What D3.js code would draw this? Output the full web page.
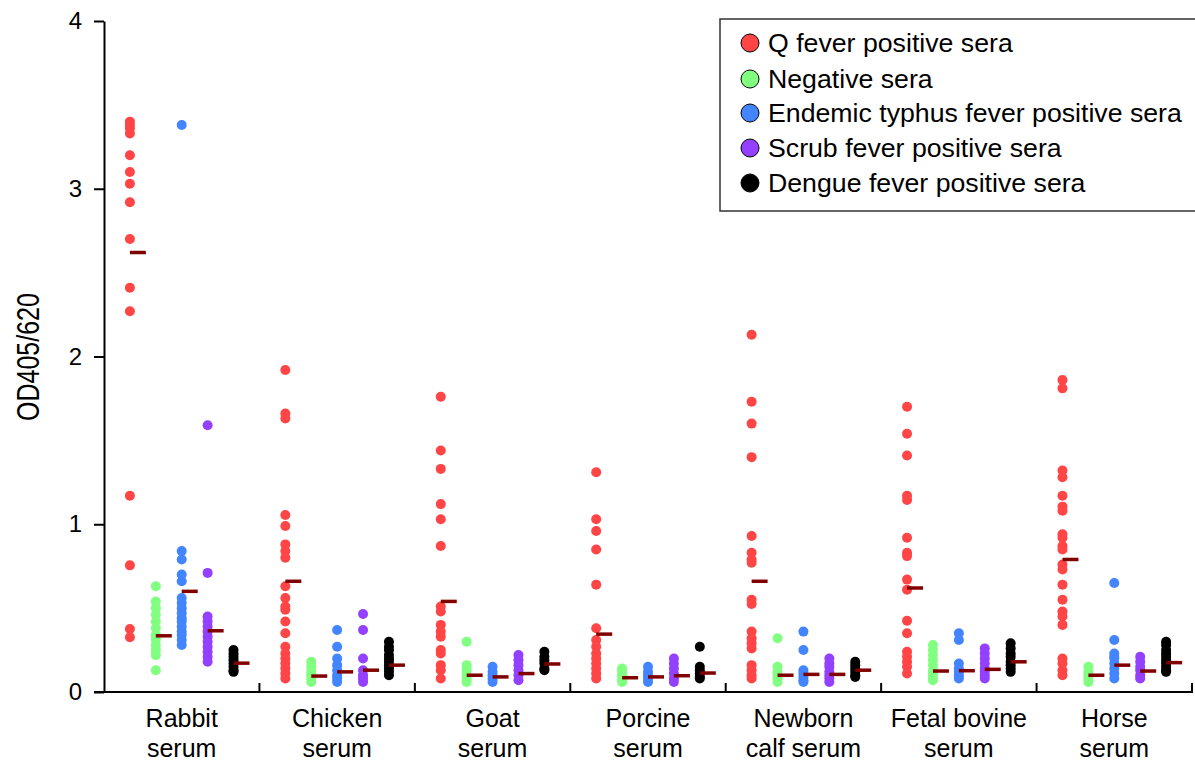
<!DOCTYPE html>
<html>
<head>
<meta charset="utf-8">
<script src="https://cdn.jsdelivr.net/npm/d3@7"></script>
<style>
  html, body { margin: 0; padding: 0; background: #fff; }
  svg { display: block; font-family: "Liberation Sans", Arial, sans-serif; }
</style>
</head>
<body>
<svg id="chart" width="1195" height="767"></svg>
<script>
// Serum groups and their two-line axis labels
const groups = ["Rabbit", "Chicken", "Goat", "Porcine", "Newborn", "Fetal bovine", "Horse"];
const groupLabels = [
  ["Rabbit", "serum"], ["Chicken", "serum"], ["Goat", "serum"], ["Porcine", "serum"],
  ["Newborn", "calf serum"], ["Fetal bovine", "serum"], ["Horse", "serum"]
];

const seriesNames = [
  "Q fever positive sera",
  "Negative sera",
  "Endemic typhus fever positive sera",
  "Scrub fever positive sera",
  "Dengue fever positive sera"
];
const seriesColors = ["#ff4545", "#80ff80", "#4385ff", "#9340ff", "#000000"];

const yTicks = [0, 1, 2, 3, 4];

// OD405/620 readings, one array per serum group, per sera type
const qFever = [
  [3.40, 3.38, 3.36, 3.33, 3.20, 3.10, 3.03, 2.92, 2.70, 2.41, 2.27, 1.17, 0.755, 0.376, 0.326],
  [1.92, 1.66, 1.63, 1.055, 0.99, 0.88, 0.84, 0.80, 0.63, 0.56, 0.51, 0.49, 0.42, 0.35, 0.27, 0.23, 0.20, 0.17, 0.14, 0.11, 0.08],
  [1.76, 1.44, 1.33, 1.12, 1.03, 0.87, 0.51, 0.48, 0.40, 0.36, 0.33, 0.25, 0.23, 0.16, 0.13, 0.08],
  [1.31, 1.03, 0.96, 0.85, 0.64, 0.38, 0.31, 0.27, 0.23, 0.20, 0.17, 0.14, 0.11, 0.08],
  [2.13, 1.73, 1.60, 1.40, 0.93, 0.83, 0.79, 0.77, 0.55, 0.525, 0.36, 0.32, 0.29, 0.26, 0.16, 0.13, 0.10, 0.08],
  [1.70, 1.54, 1.41, 1.17, 1.145, 0.92, 0.83, 0.81, 0.67, 0.61, 0.425, 0.35, 0.24, 0.21, 0.18, 0.15, 0.11],
  [1.86, 1.81, 1.32, 1.28, 1.17, 1.105, 1.08, 0.94, 0.92, 0.87, 0.85, 0.76, 0.73, 0.64, 0.55, 0.48, 0.45, 0.40, 0.20, 0.17, 0.13, 0.10]
];
const negative = [
  [0.63, 0.54, 0.50, 0.46, 0.42, 0.38, 0.34, 0.315, 0.28, 0.25, 0.22, 0.13],
  [0.18, 0.15, 0.12, 0.10, 0.08, 0.06],
  [0.30, 0.16, 0.13, 0.10, 0.08, 0.06],
  [0.14, 0.12, 0.10, 0.08, 0.06],
  [0.32, 0.15, 0.12, 0.10, 0.08, 0.06],
  [0.28, 0.25, 0.22, 0.19, 0.16, 0.13, 0.11, 0.09, 0.07],
  [0.15, 0.12, 0.10, 0.08, 0.06]
];
const endemicTyphus = [
  [3.38, 0.84, 0.79, 0.70, 0.66, 0.56, 0.53, 0.50, 0.47, 0.44, 0.42, 0.39, 0.36, 0.34, 0.31, 0.28],
  [0.37, 0.27, 0.20, 0.16, 0.13, 0.10, 0.08, 0.06],
  [0.15, 0.12, 0.10, 0.08, 0.06],
  [0.15, 0.12, 0.10, 0.08, 0.06],
  [0.36, 0.25, 0.13, 0.11, 0.09, 0.07, 0.06],
  [0.35, 0.31, 0.17, 0.14, 0.12, 0.10, 0.08],
  [0.65, 0.31, 0.23, 0.21, 0.20, 0.17, 0.14, 0.11, 0.08]
];
const scrubTyphus = [
  [1.59, 0.71, 0.45, 0.42, 0.39, 0.36, 0.33, 0.30, 0.27, 0.24, 0.21, 0.18],
  [0.465, 0.37, 0.20, 0.13, 0.10, 0.08, 0.06],
  [0.22, 0.19, 0.16, 0.13, 0.10, 0.07],
  [0.20, 0.17, 0.14, 0.11, 0.08, 0.06],
  [0.20, 0.17, 0.15, 0.12, 0.10, 0.08, 0.06],
  [0.26, 0.23, 0.20, 0.17, 0.14, 0.12, 0.10, 0.08],
  [0.21, 0.18, 0.15, 0.13, 0.10, 0.08]
];
const dengue = [
  [0.25, 0.23, 0.21, 0.19, 0.17, 0.15, 0.13, 0.12],
  [0.30, 0.27, 0.25, 0.22, 0.20, 0.18, 0.16, 0.14, 0.12, 0.10],
  [0.24, 0.21, 0.19, 0.17, 0.14, 0.13],
  [0.27, 0.15, 0.13, 0.11, 0.09, 0.08],
  [0.18, 0.16, 0.14, 0.12, 0.10, 0.09],
  [0.29, 0.26, 0.23, 0.21, 0.18, 0.16, 0.14, 0.12],
  [0.30, 0.28, 0.25, 0.23, 0.21, 0.19, 0.17, 0.15, 0.13, 0.12]
];

// Group mean values shown as short horizontal bars
const qFeverMean        = [2.62, 0.66, 0.54, 0.345, 0.66, 0.62, 0.79];
const negativeMean      = [0.335, 0.095, 0.10, 0.085, 0.10, 0.125, 0.10];
const endemicTyphusMean = [0.60, 0.12, 0.09, 0.09, 0.105, 0.127, 0.16];
const scrubTyphusMean   = [0.365, 0.13, 0.11, 0.097, 0.105, 0.135, 0.125];
const dengueMean        = [0.172, 0.16, 0.167, 0.113, 0.13, 0.18, 0.175];

const seriesValues = [qFever, negative, endemicTyphus, scrubTyphus, dengue];
const seriesMeans = [qFeverMean, negativeMean, endemicTyphusMean, scrubTyphusMean, dengueMean];

const svg = d3.select("#chart");
const margin = { left: 104, right: 1192, top: 21, bottom: 692 };

const x = d3.scaleBand().domain(groups).range([margin.left, margin.right]).padding(0);
const xs = d3.scalePoint().domain(seriesNames).range([0, x.bandwidth()]).padding(1);
const y = d3.scaleLinear().domain([0, 4]).range([margin.bottom, margin.top]);

// Dots
seriesNames.forEach((s, si) => {
  groups.forEach((g, gi) => {
    const cx = x(g) + xs(s);
    svg.append("g").selectAll("circle")
      .data(seriesValues[si][gi])
      .join("circle")
      .attr("cx", cx)
      .attr("cy", d => y(d))
      .attr("r", 5)
      .attr("fill", seriesColors[si]);
  });
});

// Mean bars
seriesNames.forEach((s, si) => {
  svg.append("g").selectAll("line")
    .data(groups)
    .join("line")
    .attr("x1", g => x(g) + xs(s))
    .attr("x2", g => x(g) + xs(s) + 16)
    .attr("y1", (g, gi) => y(seriesMeans[si][gi]))
    .attr("y2", (g, gi) => y(seriesMeans[si][gi]))
    .attr("stroke", "#800000")
    .attr("stroke-width", 3.5);
});

// Y axis
const yAxis = svg.append("g")
  .attr("transform", `translate(${margin.left},0)`)
  .call(d3.axisLeft(y).tickValues(yTicks).tickFormat(d3.format("d")).tickSize(10).tickSizeOuter(0).tickPadding(12));
yAxis.select(".domain").attr("stroke", "#000").attr("stroke-width", 2);
yAxis.selectAll(".tick line").attr("stroke", "#000").attr("stroke-width", 2);
yAxis.selectAll(".tick text").attr("font-size", 24).attr("fill", "#000")
  .attr("font-family", "'Liberation Sans', Arial, sans-serif");

// X axis line with inward ticks at group boundaries
svg.append("line")
  .attr("x1", margin.left - 10).attr("x2", margin.right + 1)
  .attr("y1", margin.bottom).attr("y2", margin.bottom)
  .attr("stroke", "#000").attr("stroke-width", 2);
svg.append("g").selectAll("line")
  .data(groups)
  .join("line")
  .attr("x1", g => x(g) + x.bandwidth())
  .attr("x2", g => x(g) + x.bandwidth())
  .attr("y1", margin.bottom)
  .attr("y2", margin.bottom - 9)
  .attr("stroke", "#000").attr("stroke-width", 2);

// Group labels
const lbl = svg.append("g").selectAll("text")
  .data(groups)
  .join("text")
  .attr("x", g => x(g) + x.bandwidth() / 2)
  .attr("text-anchor", "middle")
  .attr("font-size", 25)
  .attr("fill", "#000");
lbl.each(function(g, gi) {
  const t = d3.select(this);
  groupLabels[gi].forEach((line, li) => {
    t.append("tspan")
      .attr("x", x(g) + x.bandwidth() / 2)
      .attr("y", 727 + li * 30)
      .text(line);
  });
});

// Y axis title
svg.append("text")
  .attr("transform", "translate(39,357) rotate(-90) scale(1,1.25)")
  .attr("text-anchor", "middle")
  .attr("font-size", 25)
  .attr("fill", "#000")
  .text("OD405/620");

// Legend
const legend = svg.append("g");
legend.append("rect")
  .attr("x", 720).attr("y", 19)
  .attr("width", 500).attr("height", 192)
  .attr("fill", "#fff")
  .attr("stroke", "#333").attr("stroke-width", 1.5);
const rowsY = [43, 79, 113, 148, 183];
const items = legend.selectAll("g.item")
  .data(seriesNames)
  .join("g")
  .attr("class", "item")
  .attr("transform", (d, i) => `translate(0,${rowsY[i]})`);
items.append("circle")
  .attr("cx", 750).attr("cy", 0).attr("r", 9)
  .attr("fill", (d, i) => seriesColors[i])
  .attr("stroke", "#000").attr("stroke-width", 1);
items.append("text")
  .attr("x", 768).attr("y", 0)
  .attr("dy", "0.35em")
  .attr("font-size", 26.7)
  .attr("fill", "#000")
  .text(d => d);
</script>
</body>
</html>
